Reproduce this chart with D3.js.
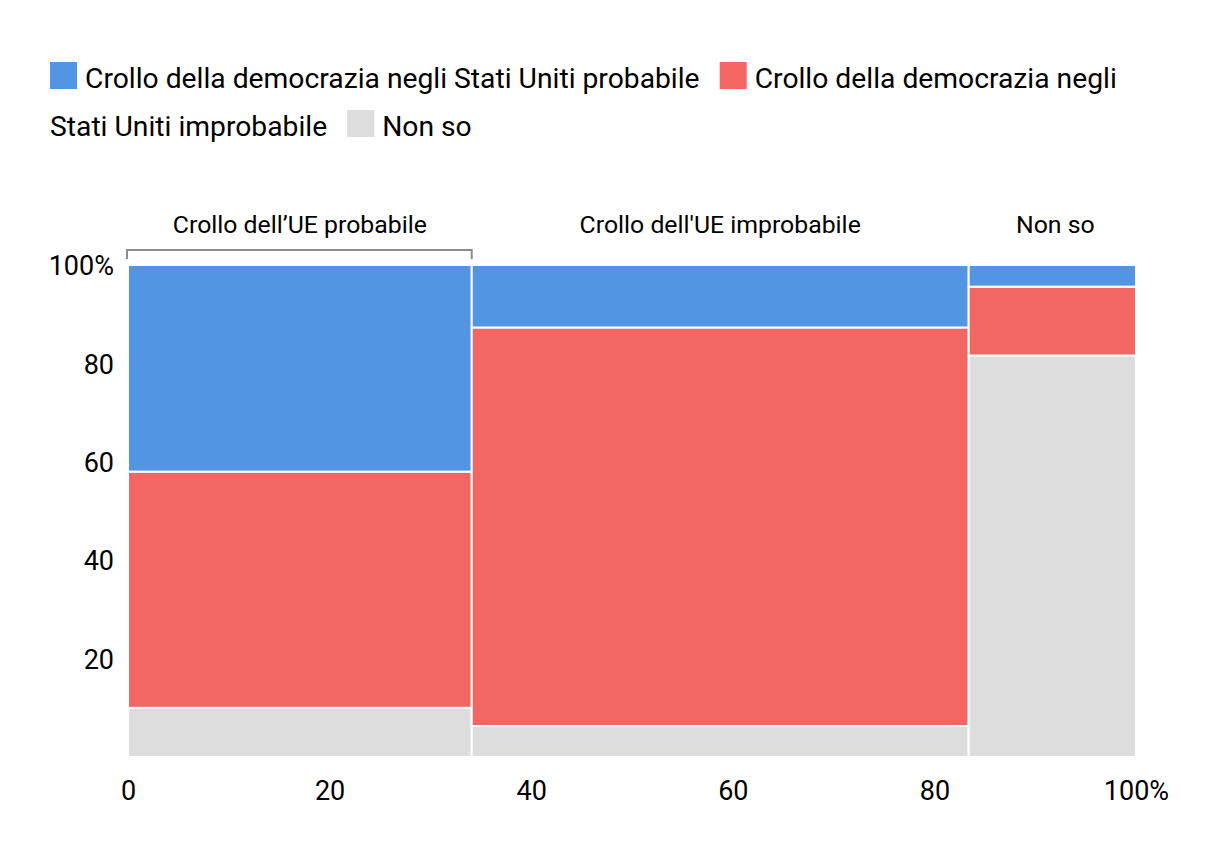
<!DOCTYPE html>
<html><head><meta charset="utf-8">
<script src="https://cdn.jsdelivr.net/npm/d3@7"></script>
<style>html,body{margin:0;padding:0;background:#fff;}</style>
</head><body>
<svg id="c" width="1220" height="862"></svg>
<script>
// ---- data ----
const columns = ["Crollo dell’UE probabile", "Crollo dell'UE improbabile", "Non so"];
const colWidths = [34.1, 49.3, 16.6];
const seriesNames = ["Crollo della democrazia negli Stati Uniti probabile",
                     "Crollo della democrazia negli Stati Uniti improbabile",
                     "Non so"];
const likely   = [42.0, 12.7, 4.4];
const unlikely = [48.0, 81.0, 14.0];
const dontKnow = [10.0, 6.3, 81.6];
const xTicks = [0, 20, 40, 60, 80, 100];
const yTicks = [20, 40, 60, 80, 100];
const colors = ["#5295E2", "#F26764", "#DDDDDD"];

const FONT = "Roboto, 'Liberation Sans', sans-serif";
const LEG_SIZE = "28.25px";
const svg = d3.select("#c");

const x = d3.scaleLinear().domain([0, 100]).range([128, 1136]);
const y = d3.scaleLinear().domain([0, 100]).range([757, 265]);

// build stacked cells
const starts = d3.cumsum([0, ...colWidths]).slice(0, colWidths.length);
const seriesVals = [likely, unlikely, dontKnow];
const cells = [];
columns.forEach((c, i) => {
  let y0 = 0;
  // stack bottom-up: dontKnow, unlikely, likely
  [2, 1, 0].forEach(s => {
    const v = seriesVals[s][i];
    cells.push({col: i, s, x0: starts[i], x1: starts[i] + colWidths[i], y0, y1: y0 + v});
    y0 += v;
  });
});

svg.append("g").selectAll("rect").data(cells).join("rect")
  .attr("x", d => x(d.x0))
  .attr("width", d => x(d.x1) - x(d.x0))
  .attr("y", d => y(d.y1))
  .attr("height", d => y(d.y0) - y(d.y1))
  .attr("fill", d => colors[d.s])
  .attr("stroke", "#fff")
  .attr("stroke-width", 2);

// y axis
const yAxis = d3.axisLeft(y).tickValues(yTicks).tickSize(0).tickPadding(0)
  .tickFormat(d => d === 100 ? "100%" : d);
const yg = svg.append("g").attr("transform", `translate(${114},0)`).call(yAxis);
yg.select(".domain").remove();
yg.selectAll("text").style("font-family", FONT).style("font-size", "27px").attr("fill", "#000").attr("dy", "0.36em");

// x axis
const xAxis = d3.axisBottom(x).tickValues(xTicks).tickSize(0).tickPadding(0)
  .tickFormat(d => d === 100 ? "100%" : d);
const xg = svg.append("g").attr("transform", `translate(0,${800})`).call(xAxis);
xg.select(".domain").remove();
xg.selectAll("text").style("font-family", FONT).style("font-size", "27px").attr("fill", "#000").attr("dy", 0);

// column headers
svg.append("g").selectAll("text").data(columns).join("text")
  .attr("x", (d, i) => x(starts[i] + colWidths[i] / 2) + (i === 2 ? 3 : 0))
  .attr("y", 233)
  .attr("text-anchor", "middle")
  .style("font-family", FONT).style("font-size", "24.8px").attr("fill", "#000")
  .text(d => d);

// bracket over first column
const bx0 = x(starts[0]) - 1, bx1 = x(starts[0] + colWidths[0]);
svg.append("path")
  .attr("d", `M${bx0},259V250H${bx1}V259`)
  .attr("fill", "none").attr("stroke", "#8c8c8c").attr("stroke-width", 2);

// legend with word wrapping
const leg = svg.append("g");
const maxX = 1170, left = 50, lineH = 48, sw = 27;
let cx = left, baseY = 88;
const measure = (t) => {
  const n = leg.append("text").style("font-family", FONT).style("font-size", LEG_SIZE).text(t);
  const w = n.node().getComputedTextLength(); n.remove(); return w;
};
const spaceW = measure("a a") - measure("aa");
seriesNames.forEach((name, i) => {
  if (cx + sw > maxX) { cx = left; baseY += lineH; }
  leg.append("rect").attr("x", cx).attr("y", baseY - 26).attr("width", sw).attr("height", sw).attr("fill", colors[i]);
  cx += sw + 8;
  const words = name.split(" ");
  let line = [], lx = cx;
  const flush = () => {
    if (line.length) {
      leg.append("text").attr("x", lx).attr("y", baseY)
        .style("font-family", FONT).style("font-size", LEG_SIZE).attr("fill", "#000")
        .text(line.join(" "));
    }
  };
  words.forEach(w => {
    const ww = measure(w);
    const add = (line.length ? spaceW : 0) + ww;
    if (cx + add > maxX && line.length) {
      flush(); line = []; baseY += lineH; cx = left; lx = left;
      line.push(w); cx += ww;
    } else { line.push(w); cx += add; }
  });
  flush();
  cx += 20;
});
</script></body></html>
